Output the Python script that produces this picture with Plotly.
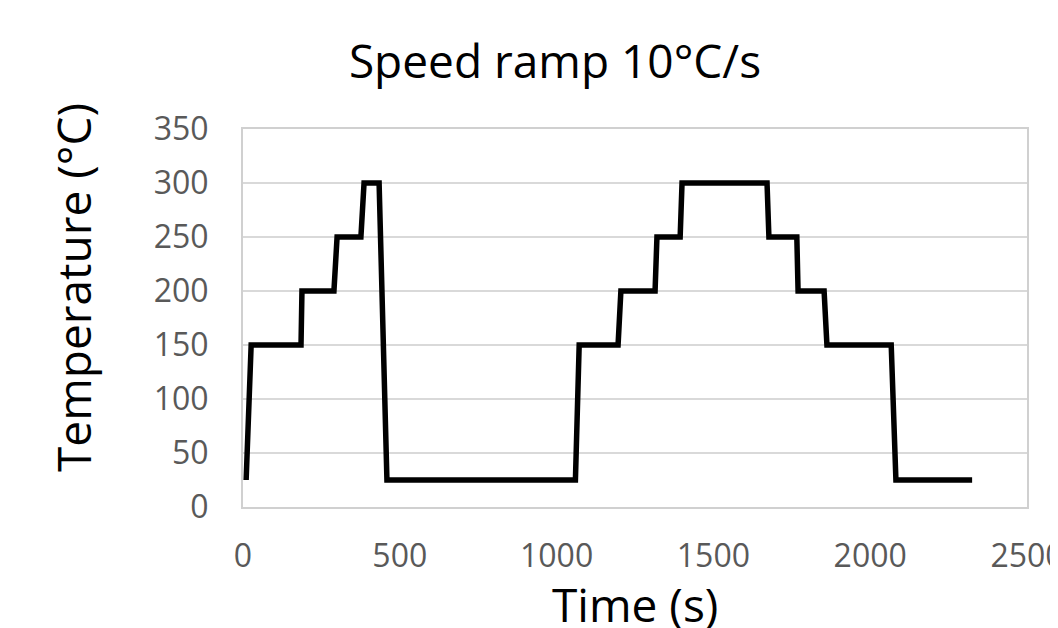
import plotly.graph_objects as go

# Time (s) and temperature (°C) breakpoints
time_s = [10, 26, 185, 188, 290, 300, 376, 386, 434, 459,
          1060, 1072, 1196, 1205, 1314, 1320, 1394, 1400,
          1671, 1677, 1766, 1770, 1853, 1862, 2067, 2082, 2325]
temp_c = [25, 150, 150, 200, 200, 250, 250, 300, 300, 25,
          25, 150, 150, 200, 200, 250, 250, 300,
          300, 250, 250, 200, 200, 150, 150, 25, 25]

x_ticks = [0, 500, 1000, 1500, 2000, 2500]
y_ticks = [0, 50, 100, 150, 200, 250, 300, 350]

title_text = "Speed ramp 10°C/s"
x_title = "Time (s)"
y_title = "Temperature (°C)"

FONT = "Open Sans"
OFF = 8  # default page body margin

W, H = 1058 - OFF, 628 - OFF
PL, PR, PT, PB = 243, 1027, 129, 507  # plot area in page pixels

fig = go.Figure()
fig.add_trace(go.Scatter(
    x=time_s, y=temp_c, mode="lines",
    line=dict(color="black", width=5.5),
    showlegend=False, hoverinfo="skip",
))

fig.update_layout(
    width=W, height=H,
    margin=dict(l=PL - OFF, r=1058 - PR, t=PT - OFF, b=628 - PB),
    paper_bgcolor="white", plot_bgcolor="white",
    font=dict(family=FONT),
    title=dict(text=title_text, x=(555 - OFF) / W, xanchor="center",
               xref="container", y=1 - (62 - OFF) / H, yref="container", yanchor="middle",
               font=dict(family=FONT, size=46, color="black")),
    annotations=[
        dict(text=y_title, textangle=-90, xref="paper", yref="paper",
             x=(73 - PL) / (PR - PL), y=(PB - 288) / (PB - PT), xanchor="center", yanchor="middle",
             showarrow=False, font=dict(family=FONT, size=46, color="black")),
        dict(text=x_title, xref="paper", yref="paper",
             x=(635 - PL) / (PR - PL), y=(PB - 604) / (PB - PT), xanchor="center", yanchor="middle",
             showarrow=False, font=dict(family=FONT, size=46, color="black")),
    ],
)

fig.update_xaxes(
    range=[0, 2500], tickvals=x_ticks, ticks="", showgrid=False, automargin=False,
    showline=True, linecolor="#d0d0d0", linewidth=2, mirror=True,
    zeroline=False, tickfont=dict(family=FONT, size=32, color="#595959"),
    ticklabelstandoff=20, ticklabeloverflow="allow",
)
fig.update_yaxes(
    range=[0, 350], tickvals=y_ticks, ticks="", showgrid=True, automargin=False,
    gridcolor="#d9d9d9", gridwidth=2,
    showline=True, linecolor="#d0d0d0", linewidth=2, mirror=True,
    zeroline=False, tickfont=dict(family=FONT, size=32, color="#595959"),
    ticklabelstandoff=26,
)

fig.write_html("out.html")
